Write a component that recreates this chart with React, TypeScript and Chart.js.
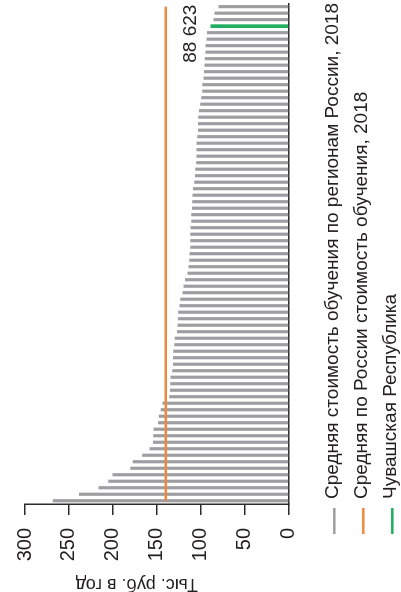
import React, { useEffect, useRef } from "react";
import { Chart, registerables } from "chart.js";

Chart.register(...registerables);

// ---------- data ----------
// Average cost of study by Russian region, 2018 (thousand roubles per year), sorted descending
const REGION_COST: number[] = [
  268.1, 238.3, 215.9, 205.0, 200.1, 180.0, 177.1, 166.1, 158.1, 153.9,
  153.6, 153.3, 148.3, 147.6, 145.3, 143.1, 135.5, 134.7, 134.3, 134.0,
  132.1, 131.3, 131.3, 130.9, 129.8, 129.4, 126.7, 126.0, 125.6, 125.3,
  123.8, 123.0, 120.4, 119.2, 117.7, 114.7, 113.6, 112.8, 112.4, 111.7,
  111.7, 111.7, 111.3, 110.5, 110.5, 109.7, 109.4, 109.0, 108.6, 107.1,
  106.3, 106.0, 104.9, 104.5, 104.5, 104.5, 103.7, 102.9, 102.9, 102.6,
  101.8, 100.3, 99.2, 98.1, 98.1, 96.6, 96.1, 95.4, 95.0, 94.3,
  94.3, 93.2, 92.7, 88.623, 85.2, 84.1, 79.6,
];
const CHUVASHIA_INDEX = 73;
const CHUVASHIA_NAME = "Чувашская Республика";
const CHUVASHIA_LABEL = "88 623";
const RUSSIA_AVERAGE = 140;
const REGIONS: string[] = REGION_COST.map((_, i) =>
  i === CHUVASHIA_INDEX ? CHUVASHIA_NAME : `Регион ${i + 1}`
);
const Y_MIN = 0;
const Y_MAX = 300;
const Y_STEP = 50;
const AXIS_TITLE = "Тыс. руб. в год";
const LEGEND_LABELS: string[] = [
  "Средняя стоимость обучения по регионам России, 2018",
  "Средняя по России стоимость обучения, 2018",
  "Чувашская Республика",
];

// ---------- styles ----------
const GRAY = "#9d9da2";
const ORANGE = "#f0883e";
const GREEN = "#1fae5e";
const AXIS = "#2b2b2b";
const TEXT = "#231f20";
const SANS = "'Liberation Sans', Arial, sans-serif";
const NARROW = "'Liberation Sans Narrow', 'Arial Narrow', 'Liberation Sans', sans-serif";
const LEGEND_COLORS = [GRAY, ORANGE, GREEN];

const W = 592; // inner (unrotated) width
const H = 401; // inner (unrotated) height

const decorPlugin = {
  id: "decor",
  afterDraw(chart: any) {
    const ctx: CanvasRenderingContext2D = chart.ctx;
    const yScale = chart.scales.y;
    const xScale = chart.scales.x;
    ctx.save();
    // legend
    const legendY = [334.3, 363.3, 392.3];
    LEGEND_LABELS.forEach((label, i) => {
      ctx.strokeStyle = LEGEND_COLORS[i];
      ctx.lineWidth = 2.5;
      ctx.beginPath();
      ctx.moveTo(58, legendY[i]);
      ctx.lineTo(84, legendY[i]);
      ctx.stroke();
      ctx.fillStyle = TEXT;
      ctx.font = `19px ${SANS}`;
      ctx.textAlign = "left";
      ctx.textBaseline = "alphabetic";
      ctx.fillText(label, 93, legendY[i] + 4);
    });
    // axis title
    ctx.save();
    ctx.translate(13.2, (yScale.top + yScale.bottom) / 2 - 20);
    ctx.rotate(-Math.PI / 2);
    ctx.font = `18px ${SANS}`;
    ctx.fillStyle = TEXT;
    ctx.textAlign = "center";
    ctx.textBaseline = "alphabetic";
    ctx.fillText(AXIS_TITLE, 0, 0);
    ctx.restore();
    // value label for Chuvashia
    ctx.font = `19px ${SANS}`;
    ctx.fillStyle = TEXT;
    ctx.textAlign = "right";
    ctx.textBaseline = "alphabetic";
    const px = xScale.getPixelForValue(REGIONS.length - 1);
    ctx.fillText(
      CHUVASHIA_LABEL,
      px + 2,
      yScale.getPixelForValue(REGION_COST[CHUVASHIA_INDEX]) - 15
    );
    ctx.restore();
  },
};

export default function App() {
  const ref = useRef<HTMLCanvasElement | null>(null);
  useEffect(() => {
    if (!ref.current) return;
    const chart = new Chart(ref.current, {
      type: "bar",
      data: {
        labels: REGIONS,
        datasets: [
          {
            type: "line",
            label: LEGEND_LABELS[1],
            data: REGIONS.map(() => RUSSIA_AVERAGE),
            borderColor: ORANGE,
            borderWidth: 2.5,
            pointRadius: 0,
            order: 0,
          } as any,
          {
            label: LEGEND_LABELS[0],
            data: REGION_COST.map((v, i) => (i === CHUVASHIA_INDEX ? null : v)),
            backgroundColor: GRAY,
            borderWidth: 0,
            barThickness: 2.5,
            grouped: false,
            order: 2,
          } as any,
          {
            label: LEGEND_LABELS[2],
            data: REGION_COST.map((v, i) => (i === CHUVASHIA_INDEX ? v : null)),
            backgroundColor: GREEN,
            borderWidth: 0,
            barThickness: 3,
            grouped: false,
            order: 1,
          } as any,
        ],
      },
      options: {
        responsive: false,
        animation: false,
        devicePixelRatio: 1,
        layout: { padding: { left: 0, right: 3.4, top: 24, bottom: 0 } },
        plugins: {
          legend: { display: false },
          tooltip: { enabled: false },
          title: { display: false },
        },
        scales: {
          x: {
            type: "category",
            offset: true,
            afterFit: (s: any) => {
              s.height = H - 288.7;
            },
            ticks: { display: false },
            grid: { display: false },
            border: { display: true, color: AXIS, width: 1.5 },
          },
          y: {
            min: Y_MIN,
            max: Y_MAX,
            afterFit: (s: any) => {
              s.width = 88;
            },
            ticks: {
              stepSize: Y_STEP,
              padding: 13,
              color: TEXT,
              font: { family: NARROW, size: 20 },
            },
            grid: {
              display: true,
              drawOnChartArea: false,
              drawTicks: true,
              tickLength: 11,
              color: AXIS,
              lineWidth: 1.5,
            },
            border: { display: true, color: AXIS, width: 1.5 },
          },
        },
      } as any,
      plugins: [decorPlugin],
    });
    return () => chart.destroy();
  }, []);

  return (
    <div
      style={{
        position: "absolute",
        left: 0,
        top: 0,
        width: 401,
        height: 592,
        overflow: "hidden",
        background: "#ffffff",
      }}
    >
      <div
        style={{
          position: "absolute",
          left: 0,
          top: 0,
          width: W,
          height: H,
          transformOrigin: "0 0",
          transform: "translateY(592px) rotate(-90deg)",
        }}
      >
        <canvas ref={ref} width={W} height={H} style={{ width: W, height: H, display: "block" }} />
      </div>
    </div>
  );
}
